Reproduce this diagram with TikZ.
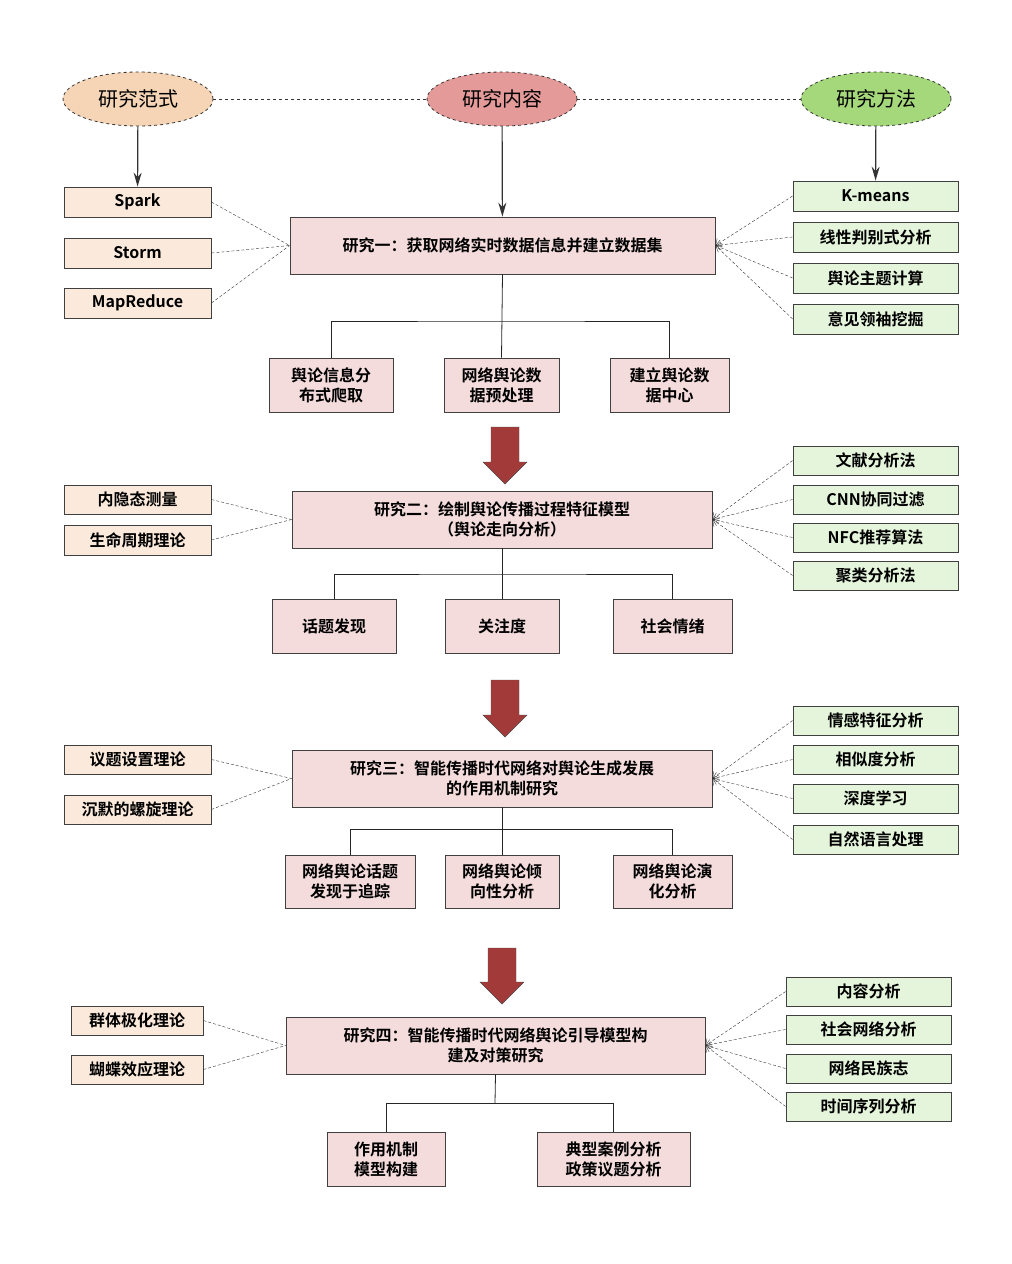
\documentclass[tikz,border=0pt]{standalone}
\usepackage{fontspec}
\setmainfont{Noto Sans CJK SC}[BoldFont={Noto Sans CJK SC Bold}]
\usetikzlibrary{arrows.meta,shapes.geometric}
\definecolor{cPeach}{HTML}{F5D5B5}
\definecolor{cRose}{HTML}{E59A9A}
\definecolor{cLeaf}{HTML}{A5D87A}
\definecolor{cLeft}{HTML}{FBEADB}
\definecolor{cMain}{HTML}{F5DCDC}
\definecolor{cRight}{HTML}{E5F5DC}
\definecolor{cArrow}{HTML}{A33A3A}
\newcommand\bx[6]{\node[#1,minimum width={#4-#3},minimum height={#6-#5}] (#2) at ({(#3+#4)/2},{(#5+#6)/2})}
\newcommand\blockarrow[3]{\fill[bigarrow] (#1-14,#2) -- (#1+14,#2) -- (#1+14,#3-22) -- (#1+22,#3-22) -- (#1,#3) -- (#1-22,#3-22) -- (#1-14,#3-22) -- cycle;}

\begin{document}
\begin{tikzpicture}[x=1pt,y=-1pt,font=\bfseries\fontsize{16}{20}\selectfont,
head/.style={ellipse,draw=black!80,dashed,thick,inner sep=0pt,minimum width=150pt,minimum height=54pt,font=\fontsize{20}{24}\selectfont},
lbox/.style={draw=black!75,thick,fill=cLeft,inner sep=0pt},
rbox/.style={draw=black!75,thick,fill=cRight,inner sep=0pt},
mbox/.style={draw=black!75,thick,fill=cMain,inner sep=0pt,align=center},
link/.style={densely dashed,black!80},
tree/.style={black!85,thick},
bigarrow/.style={draw=black!70,fill=cArrow}
]
\useasboundingbox (0,0) rectangle (1012,1264);

% heads
\node[head,fill=cPeach] (fanshi) at (138,99) {研究范式};
\node[head,fill=cRose] (neirong) at (502,99) {研究内容};
\node[head,fill=cLeaf] (fangfa) at (876,99) {研究方法};
\draw[link,thick,dashed] (fanshi) -- (neirong) -- (fangfa);

% study one
\bx{lbox}{spark}{64}{211}{187}{217} {Spark};
\bx{lbox}{storm}{64}{211}{238}{268} {Storm};
\bx{lbox}{mapr}{64}{211}{288}{318} {MapReduce};
\bx{mbox}{s1}{290}{715}{217}{274} {研究一：获取网络实时数据信息并建立数据集};
\bx{rbox}{km}{793}{958}{181}{211} {K-means};
\bx{rbox}{lda}{793}{958}{222}{252} {线性判别式分析};
\bx{rbox}{topic}{793}{958}{263}{293} {舆论主题计算};
\bx{rbox}{leader}{793}{958}{304}{334} {意见领袖挖掘};
\bx{mbox}{s1a}{269}{393}{358}{412} {舆论信息分\\布式爬取};
\bx{mbox}{s1b}{444}{559}{358}{412} {网络舆论数\\据预处理};
\bx{mbox}{s1c}{610}{729}{358}{412} {建立舆论数\\据中心};
\draw[-{Stealth[length=14pt,width=8pt]},very thick,black!80] (fanshi) -- (spark);
\draw[-{Stealth[length=14pt,width=8pt]},very thick,black!80] (neirong) -- (s1);
\draw[-{Stealth[length=14pt,width=8pt]},very thick,black!80] (fangfa) -- (km);
\foreach \n in {spark,storm,mapr} \draw[link] (\n.east) -- (s1.west);
\foreach \n in {km,lda,topic,leader} \draw[link,-{Straight Barb[length=5pt]}] (\n.west) -- (s1.east);
\draw[tree] (s1.south) -- (s1b.north);
\draw[tree] (s1a.north) |- (502,321) -| (s1c.north);
\blockarrow{505}{427}{484}

% study two
\bx{lbox}{yinxing}{64}{211}{485}{514} {内隐态测量};
\bx{lbox}{shengming}{64}{211}{525}{555} {生命周期理论};
\bx{mbox}{s2}{292}{712}{491}{548} {研究二：绘制舆论传播过程特征模型\\（舆论走向分析）};
\bx{rbox}{wenxian}{793}{958}{446}{475} {文献分析法};
\bx{rbox}{cnn}{793}{958}{485}{514} {CNN协同过滤};
\bx{rbox}{nfc}{793}{958}{523}{552} {NFC推荐算法};
\bx{rbox}{julei}{793}{958}{561}{590} {聚类分析法};
\bx{mbox}{s2a}{272}{396}{599}{653} {话题发现};
\bx{mbox}{s2b}{445}{559}{599}{653} {关注度};
\bx{mbox}{s2c}{613}{732}{599}{653} {社会情绪};
\foreach \n in {yinxing,shengming} \draw[link] (\n.east) -- (s2.west);
\foreach \n in {wenxian,cnn,nfc,julei} \draw[link,-{Straight Barb[length=5pt]}] (\n.west) -- (s2.east);
\draw[tree] (s2.south) -- (s2b.north);
\draw[tree] (s2a.north) |- (502,574) -| (s2c.north);
\blockarrow{505}{680}{737}

% study three
\bx{lbox}{yiti}{64}{211}{745}{774} {议题设置理论};
\bx{lbox}{chenmo}{64}{211}{795}{824} {沉默的螺旋理论};
\bx{mbox}{s3}{292}{712}{750}{807} {研究三：智能传播时代网络对舆论生成发展\\的作用机制研究};
\bx{rbox}{qinggan}{793}{958}{706}{735} {情感特征分析};
\bx{rbox}{xiangsi}{793}{958}{745}{774} {相似度分析};
\bx{rbox}{shendu}{793}{958}{784}{813} {深度学习};
\bx{rbox}{nlp}{793}{958}{825}{854} {自然语言处理};
\bx{mbox}{s3a}{285}{415}{855}{908} {网络舆论话题\\发现于追踪};
\bx{mbox}{s3b}{445}{559}{855}{908} {网络舆论倾\\向性分析};
\bx{mbox}{s3c}{613}{732}{855}{908} {网络舆论演\\化分析};
\foreach \n in {yiti,chenmo} \draw[link] (\n.east) -- (s3.west);
\foreach \n in {qinggan,xiangsi,shendu,nlp} \draw[link,-{Straight Barb[length=5pt]}] (\n.west) -- (s3.east);
\draw[tree] (s3.south) -- (s3b.north);
\draw[tree] (s3a.north) |- (502,829) -| (s3c.north);
\blockarrow{502}{948}{1004}

% study four
\bx{lbox}{jiti}{71}{203}{1006}{1035} {群体极化理论};
\bx{lbox}{hudie}{71}{203}{1055}{1084} {蝴蝶效应理论};
\bx{mbox}{s4}{286}{705}{1017}{1074} {研究四：智能传播时代网络舆论引导模型构\\建及对策研究};
\bx{rbox}{neirongfx}{786}{951}{977}{1006} {内容分析};
\bx{rbox}{shehui}{786}{951}{1015}{1044} {社会网络分析};
\bx{rbox}{minzu}{786}{951}{1054}{1083} {网络民族志};
\bx{rbox}{shijian}{786}{951}{1092}{1121} {时间序列分析};
\bx{mbox}{s4a}{327}{445}{1132}{1186} {作用机制\\模型构建};
\bx{mbox}{s4b}{537}{690}{1132}{1186} {典型案例分析\\政策议题分析};
\foreach \n in {jiti,hudie} \draw[link] (\n.east) -- (s4.west);
\foreach \n in {neirongfx,shehui,minzu,shijian} \draw[link,-{Straight Barb[length=5pt]}] (\n.west) -- (s4.east);
\draw[tree] (s4a.north) |- (495,1103) -| (s4b.north);
\draw[tree] (s4.south) -- (495,1103);
\end{tikzpicture}
\end{document}
